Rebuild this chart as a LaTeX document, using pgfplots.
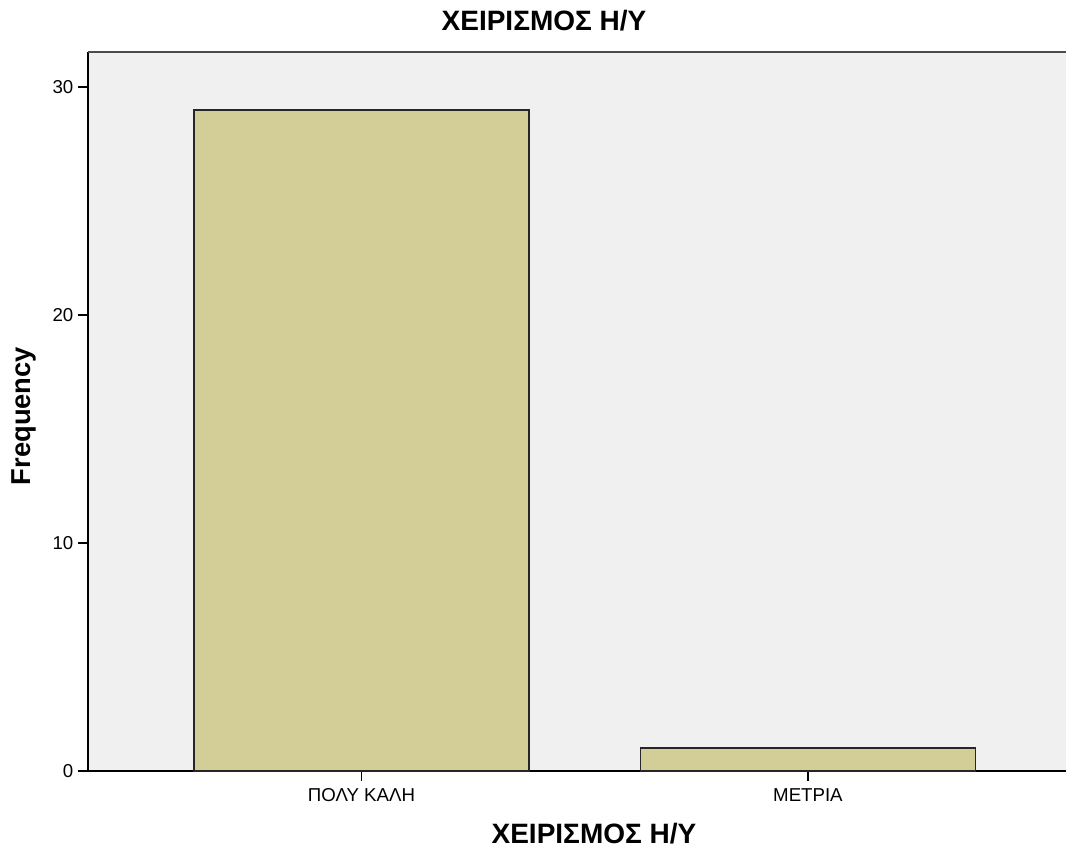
\documentclass[border=0pt]{standalone}
\usepackage{fontspec}
\setmainfont{Liberation Sans}
\usepackage{pgfplots}
\pgfplotsset{compat=1.18}
\definecolor{barfill}{RGB}{211,206,151}
\definecolor{plotbg}{RGB}{240,240,240}
\begin{document}
\begin{tikzpicture}
  % whole picture: 1066 x 849 px, 1px = 0.75pt
  \path[use as bounding box] (-66pt,-58.5pt) rectangle (733.5pt,578.25pt);
  \begin{axis}[
    at={(0,0)}, anchor=south west,
    scale only axis,
    width=733.5pt, height=539.25pt,
    xmin=-0.6125, xmax=1.578,
    ymin=0, ymax=31.54,
    xtick={0,1},
    xticklabels={ΠΟΛΥ ΚΑΛΗ, ΜΕΤΡΙΑ},
    ytick={0,10,20,30},
    axis lines=left,
    axis line style={-, line width=1.1pt, black},
    tick style={line width=1.1pt, black},
    tick align=outside,
    major tick length=7.5pt,
    /pgf/number format/assume math mode=true,
    tick label style={font=\fontsize{14}{16}\selectfont},
    xticklabel style={yshift=-2pt},
    axis background/.style={fill=plotbg},
    title={\bfseries ΧΕΙΡΙΣΜΟΣ Η/Υ},
    title style={at={(rel axis cs:0.4663,1.032)}, anchor=center, font=\fontsize{21}{25}\selectfont},
    xlabel={\bfseries ΧΕΙΡΙΣΜΟΣ Η/Υ},
    xlabel style={at={(rel axis cs:0.5174,-0.0876)}, anchor=center, font=\fontsize{21}{25}\selectfont},
    ylabel={\bfseries Frequency},
    ylabel style={at={(rel axis cs:-0.0654,0.4937)}, anchor=center, font=\fontsize{20.5}{24}\selectfont},
    ybar,
    bar width=0.75,
    clip=false,
    ]
    \addplot[fill=barfill, draw=black!85, line width=1.1pt] coordinates {(0,29) (1,1)};
    \draw[black!70, line width=1.5pt] (rel axis cs:0,1) -- (rel axis cs:1,1);
  \end{axis}
\end{tikzpicture}
\end{document}
